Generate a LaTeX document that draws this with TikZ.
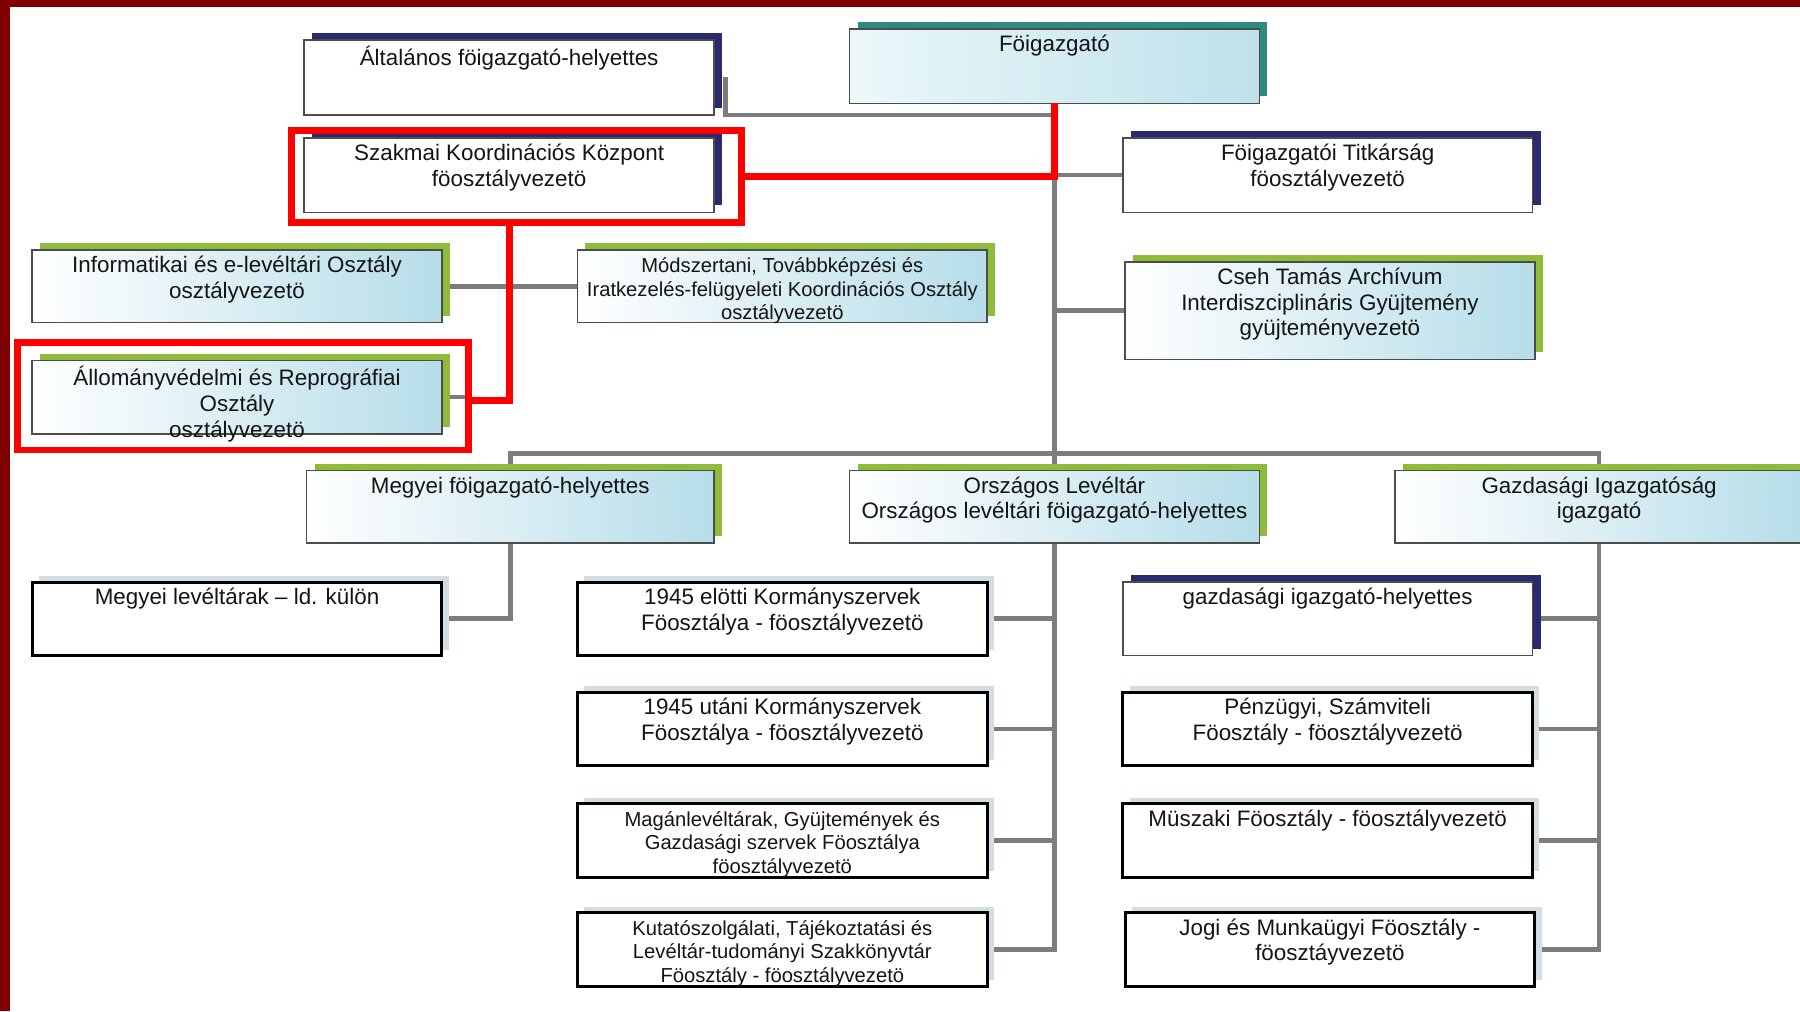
\documentclass[tikz,border=0pt]{standalone}
\usepackage{fontspec}
\setmainfont{Liberation Sans}
\usetikzlibrary{shadows}
\definecolor{dred}{RGB}{128,0,0}
\definecolor{navy}{RGB}{42,42,110}
\definecolor{teal2}{RGB}{45,138,126}
\definecolor{accG}{RGB}{142,188,58}
\definecolor{lb}{RGB}{182,221,233}
\definecolor{lbc}{RGB}{222,243,246}
\definecolor{conngray}{RGB}{125,125,125}
\definecolor{faint}{RGB}{210,222,228}
\definecolor{txtc}{RGB}{20,20,20}
\pgfdeclarelayer{bg}
\pgfsetlayers{bg,main}
\newcommand\fn{\fontsize{19.5}{22.5}\selectfont}
\newcommand\fsm{\fontsize{17.6}{20.5}\selectfont}
\newcommand\obox[8][txt]{%
  \node[#2, minimum width={(#6-#4)*1pt}, minimum height={(#7-#5)*1pt}] (#3) at (#4,#5) {};
  \node[#1] (#3-t) at (#3.north) {\rule{0pt}{14pt}#8};
}
\tikzset{
  boxbase/.style={draw=black!70, line width=1.4pt, inner sep=0pt, outer sep=0pt, anchor=north west},
  gbox/.style={boxbase, left color=white, middle color=white!55!lb, right color=lb,
    copy shadow={shadow xshift=7pt, shadow yshift=6pt, fill=accG, draw=none}},
  nbox/.style={boxbase, fill=white,
    copy shadow={shadow xshift=7pt, shadow yshift=6pt, fill=navy, draw=none}},
  tbox/.style={boxbase, left color=lbc!60!white, right color=lb!80!lbc,
    copy shadow={shadow xshift=7pt, shadow yshift=6pt, fill=teal2, draw=none}},
  kbox/.style={boxbase, draw=black, line width=2.6pt, fill=white,
    copy shadow={shadow xshift=6pt, shadow yshift=5pt, fill=faint, draw=none}},
  txt/.style={inner sep=0pt, align=center, font=\fn, text=txtc, anchor=north, yshift=-5pt},
  txts/.style={txt, font=\fsm, yshift=-0.5pt},
  conn/.style={draw=conngray, line width=4pt},
  redl/.style={draw=red, line width=6pt},
}
\begin{document}
\begin{tikzpicture}[x=1pt,y=-1pt]
\useasboundingbox (0,0) rectangle (1568,881);

\obox{tbox}{fo}{740}{25}{1097}{90}{Föigazgató}
\obox{nbox}{alt}{265}{35}{622}{100}{Általános föigazgató-helyettes}
\obox{nbox}{szk}{265}{120}{622}{185}{Szakmai Koordinációs Központ\\föosztályvezetö}
\obox{nbox}{tit}{978}{120}{1335}{185}{Föigazgatói Titkárság\\föosztályvezetö}
\obox{gbox}{inf}{28}{218}{385}{281}{Informatikai és e-levéltári Osztály\\osztályvezetö}
\obox[txts]{gbox}{mod}{503}{218}{860}{281}{Módszertani, Továbbképzési és\\Iratkezelés-felügyeleti Koordinációs Osztály\\osztályvezetö}
\obox{gbox}{cseh}{980}{228}{1337}{313}{Cseh Tamás Archívum\\Interdiszciplináris Gyüjtemény\\gyüjteményvezetö}
\obox{gbox}{all}{28}{314}{385}{378}{Állományvédelmi és Reprográfiai\\Osztály\\osztályvezetö}
\obox{gbox}{meg}{267}{410}{622}{473}{Megyei föigazgató-helyettes}
\obox{gbox}{orsz}{740}{410}{1097}{473}{Országos Levéltár\\Országos levéltári föigazgató-helyettes}
\obox{gbox}{gazd}{1215}{410}{1571}{473}{Gazdasági Igazgatóság\\igazgató}
\obox{kbox}{mlk}{28}{507}{385}{571}{Megyei levéltárak – ld. külön}
\obox{kbox}{k1}{503}{507}{860}{571}{1945 elötti Kormányszervek\\Föosztálya - föosztályvezetö}
\obox{kbox}{k2}{503}{603}{860}{667}{1945 utáni Kormányszervek\\Föosztálya - föosztályvezetö}
\obox[txts]{kbox}{k3}{503}{700}{860}{764}{Magánlevéltárak, Gyüjtemények és\\Gazdasági szervek Föosztálya\\föosztályvezetö}
\obox[txts]{kbox}{k4}{503}{795}{860}{859}{Kutatószolgálati, Tájékoztatási és\\Levéltár-tudományi Szakkönyvtár\\Föosztály - föosztályvezetö}
\obox{nbox}{g1}{978}{507}{1335}{571}{gazdasági igazgató-helyettes}
\obox{kbox}{g2}{978}{603}{1335}{667}{Pénzügyi, Számviteli\\Föosztály - föosztályvezetö}
\obox{kbox}{g3}{978}{700}{1335}{764}{Müszaki Föosztály - föosztályvezetö}
\obox{kbox}{g4}{980}{795}{1337}{859}{Jogi és Munkaügyi Föosztály -\\föosztáyvezetö}

% red highlight frames
\node[redl, anchor=north west, inner sep=0pt, minimum width=392pt, minimum height=80pt] (r1) at (251,111) {};
\node[redl, anchor=north west, inner sep=0pt, minimum width=392.5pt, minimum height=94pt] (r2) at (12.5,295) {};

\begin{pgfonlayer}{bg}
\fill[white] (0,0) rectangle (1568,881);
\draw[conn] ([xshift=10pt]alt.east) |- (fo.south |- alt.south);
\draw[conn] (fo.south) -- (orsz.north);
\draw[conn] (tit.west) -- (tit.west -| fo.south);
\draw[conn] (cseh.west) -- (cseh.west -| fo.south);
\draw[conn] (inf.east) -- (mod.west);
\draw[conn] (all.east) -- (all.east -| r2.east);
\coordinate (bus) at (918.5,395);
\draw[conn] (meg.north) |- (bus) -| (gazd.north);
\draw[conn] (meg.south) |- (mlk.east);
\draw[conn] (orsz.south) |- (k4.east);
\foreach \k in {k1,k2,k3} \draw[conn] (\k.east) -- (\k.east -| orsz.south);
\draw[conn] (gazd.south) |- (g4.east);
\foreach \k in {g1,g2,g3} \draw[conn] (\k.east) -- (\k.east -| gazd.south);
\end{pgfonlayer}

\draw[redl] (fo.south) |- (r1.east);
\draw[redl] (r1.south -| szk.south) |- ([yshift=-3pt]all.east -| r2.east);

% dark red frame
\fill[dred] (0,0) rectangle (1568,6);
\fill[dred] (0,0) rectangle (8.7,881);
\end{tikzpicture}
\end{document}
